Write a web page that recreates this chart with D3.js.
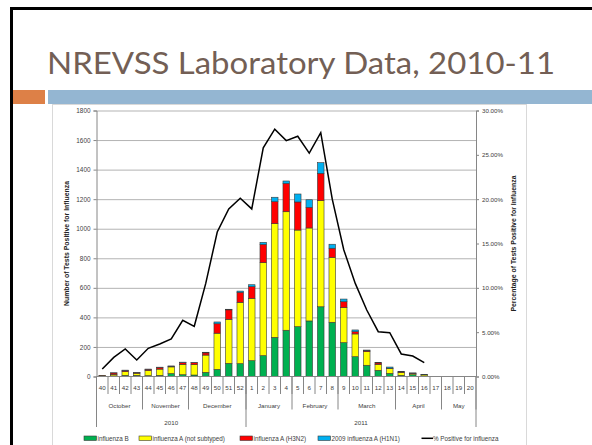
<!DOCTYPE html>
<html>
<head>
<meta charset="utf-8">
<script src="https://cdn.jsdelivr.net/npm/d3@7"></script>
<style>
  body { margin: 0; background: #fff; }
  svg { display: block; }
  text { font-family: "Liberation Sans", Arial, sans-serif; fill: #404040; }
</style>
</head>
<body>
<script>
// week labels (2010 wk 40 .. 2011 wk 20)
const weeks = ["40","41","42","43","44","45","46","47","48","49","50","51","52",
  "1","2","3","4","5","6","7","8","9","10","11","12","13","14","15","16","17","18","19","20"];

// positive specimens per week
const fluB   = [2, 4, 8, 8, 6, 8, 20, 12, 10, 28, 48, 89, 87,
  107, 141, 265, 313, 337, 376, 472, 367, 229, 134, 76, 42, 21, 8, 12, 4, 0, 0, 0, 0];
const fluA   = [5, 10, 25, 14, 35, 42, 45, 70, 70, 117, 245, 298, 415,
  422, 629, 769, 802, 654, 629, 718, 439, 237, 154, 92, 40, 32, 20, 8, 8, 0, 0, 0, 0];
const h3n2   = [1, 10, 8, 4, 8, 12, 5, 12, 14, 15, 64, 64, 68,
  79, 124, 149, 192, 190, 140, 185, 62, 40, 15, 6, 10, 3, 3, 3, 1, 0, 0, 0, 0];
const h1n1   = [0, 1, 2, 1, 1, 1, 1, 3, 2, 4, 12, 4, 8,
  13, 14, 30, 16, 54, 51, 72, 27, 18, 12, 5, 2, 8, 4, 1, 1, 0, 0, 0, 0];
// % positive (percent)
const pctPos = [0.85, 2.16, 3.10, 1.86, 3.18, 3.66, 4.23, 6.34, 5.66, 10.5, 16.3, 18.9, 20.1,
  18.9, 25.8, 27.9, 26.6, 27.1, 25.2, 27.5, 20.0, 14.3, 10.5, 7.5, 5.05, 4.94, 2.54, 2.31, 1.56, null, null, null, null];

const months = ["October","November","December","January","February","March","April","May"];
const monthWeeks = [4, 4, 5, 4, 4, 5, 4, 3];
const years = ["2010", "2011"];
const yearWeeks = [13, 20];

const seriesKeys = ["influenza B", "influenza A (not subtyped)", "influenza A (H3N2)", "2009 influenza A (H1N1)"];
const seriesVals = [fluB, fluA, h3n2, h1n1];
const seriesColors = ["#00b050", "#ffff00", "#ff0000", "#00b0f0"];

const W = 592, H = 445;
const plotL = 96.5, plotR = 476, plotT = 110.5, plotB = 376.5;

const svg = d3.select("body").append("svg")
  .attr("width", W)
  .attr("height", H);

// slide frame
svg.append("rect").attr("x", 0).attr("y", 0).attr("width", W).attr("height", H).attr("fill", "#fff");
svg.append("rect").attr("x", 10).attr("y", 7).attr("width", W - 10).attr("height", 3).attr("fill", "#000");
svg.append("rect").attr("x", 10).attr("y", 7).attr("width", 3).attr("height", H - 7).attr("fill", "#000");

// title
svg.append("text")
  .attr("x", 47)
  .attr("y", 74)
  .attr("textLength", 508)
  .attr("lengthAdjust", "spacingAndGlyphs")
  .style("font-family", "Lato, 'Open Sans', sans-serif")
  .style("font-size", "31px")
  .style("fill", "#735f55")
  .text("NREVSS Laboratory Data, 2010-11");

// accent bars
svg.append("rect").attr("x", 13).attr("y", 90).attr("width", 32).attr("height", 14).attr("fill", "#dd8047");
svg.append("rect").attr("x", 48).attr("y", 90).attr("width", W - 48).attr("height", 14).attr("fill", "#94b6d2");

// chart box
svg.append("rect")
  .attr("x", 52.5).attr("y", 104.5)
  .attr("width", 474).attr("height", 360)
  .attr("fill", "#fff")
  .attr("stroke", "#d9d9d9");

// scales
const x = d3.scaleBand()
  .domain(d3.range(weeks.length))
  .range([plotL, plotR])
  .paddingInner(0.43)
  .paddingOuter(0.215);

const y = d3.scaleLinear().domain([0, 1800]).range([plotB, plotT]);
const yPct = d3.scaleLinear().domain([0, 0.30]).range([plotB, plotT]);

// gridlines
svg.append("g")
  .attr("transform", `translate(${plotL},0)`)
  .call(d3.axisLeft(y).tickValues(d3.range(200, 1801, 200)).tickSize(-(plotR - plotL)).tickFormat(""))
  .call(g => g.select(".domain").remove())
  .call(g => g.selectAll("line").attr("stroke", "#b3b3b3"));

// left axis
svg.append("g")
  .attr("transform", `translate(${plotL},0)`)
  .call(d3.axisLeft(y).tickValues(d3.range(0, 1801, 200)).tickSize(3).tickPadding(3).tickFormat(d3.format("d")))
  .call(g => g.select(".domain").attr("stroke", "#868686"))
  .call(g => g.selectAll("line").attr("stroke", "#868686"))
  .call(g => g.selectAll("text").style("font-size", "6.4px").attr("fill", "#404040"));

// right axis
svg.append("g")
  .attr("transform", `translate(${plotR},0)`)
  .call(d3.axisRight(yPct).tickValues(d3.range(0, 0.301, 0.05)).tickSize(3).tickPadding(3).tickFormat(d3.format(".2%")))
  .call(g => g.select(".domain").attr("stroke", "#868686"))
  .call(g => g.selectAll("line").attr("stroke", "#868686"))
  .call(g => g.selectAll("text").style("font-size", "6.2px").attr("fill", "#404040"));

// stacked bars
const stackData = weeks.map((w, i) => {
  const row = {i: i};
  seriesKeys.forEach((k, j) => row[k] = seriesVals[j][i]);
  return row;
});
const stacked = d3.stack().keys(seriesKeys)(stackData);

svg.append("g")
  .selectAll("g")
  .data(stacked)
  .join("g")
  .attr("fill", (d, j) => seriesColors[j])
  .selectAll("rect")
  .data(d => d.filter(p => p[1] - p[0] > 0))
  .join("rect")
  .attr("x", d => x(d.data.i))
  .attr("y", d => y(d[1]))
  .attr("width", x.bandwidth())
  .attr("height", d => y(d[0]) - y(d[1]))
  .attr("stroke", "#3a3a3a")
  .attr("stroke-width", 0.6);

// bottom axis line
svg.append("line")
  .attr("x1", plotL).attr("x2", plotR)
  .attr("y1", plotB).attr("y2", plotB)
  .attr("stroke", "#868686");

// % positive line
const line = d3.line()
  .defined(d => d != null)
  .x((d, i) => x(i) + x.bandwidth() / 2)
  .y(d => yPct(d / 100));

svg.append("path")
  .datum(pctPos)
  .attr("d", line)
  .attr("fill", "none")
  .attr("stroke", "#000")
  .attr("stroke-width", 1.5)
  .attr("stroke-linejoin", "miter");

// multi-level category axis
const step = x.step();
const xEdge = i => plotL + i * step;
const catG = svg.append("g").attr("stroke", "#868686");

weeks.forEach((w, i) => {
  if (i > 0) {
    catG.append("line").attr("x1", xEdge(i)).attr("x2", xEdge(i))
      .attr("y1", plotB).attr("y2", 394);
  }
  svg.append("text")
    .attr("x", xEdge(i) + step / 2)
    .attr("y", 389.5)
    .attr("text-anchor", "middle")
    .style("font-size", "6.2px")
    .text(w);
});

let acc = 0;
months.forEach((m, k) => {
  const x0 = xEdge(acc);
  acc += monthWeeks[k];
  const x1 = xEdge(acc);
  catG.append("line").attr("x1", x1).attr("x2", x1).attr("y1", plotB).attr("y2", 409.5);
  svg.append("text")
    .attr("x", (x0 + x1) / 2)
    .attr("y", 407.5)
    .attr("text-anchor", "middle")
    .style("font-size", "6.2px")
    .text(m);
});

acc = 0;
catG.append("line").attr("x1", plotL).attr("x2", plotL).attr("y1", plotB).attr("y2", 427);
years.forEach((yr, k) => {
  const x0 = xEdge(acc);
  acc += yearWeeks[k];
  const x1 = xEdge(acc);
  catG.append("line").attr("x1", x1).attr("x2", x1).attr("y1", plotB).attr("y2", 427);
  svg.append("text")
    .attr("x", (x0 + x1) / 2)
    .attr("y", 424.5)
    .attr("text-anchor", "middle")
    .style("font-size", "6.2px")
    .text(yr);
});

// axis titles
svg.append("text")
  .attr("transform", `translate(68.5, ${(plotT + plotB) / 2}) rotate(-90)`)
  .attr("text-anchor", "middle")
  .style("font-size", "6.9px")
  .style("font-weight", "bold")
  .style("fill", "#222")
  .text("Number of Tests Positive for Influenza");

svg.append("text")
  .attr("transform", `translate(515.5, ${(plotT + plotB) / 2}) rotate(-90)`)
  .attr("text-anchor", "middle")
  .style("font-size", "6.9px")
  .style("font-weight", "bold")
  .style("fill", "#222")
  .text("Percentage of Tests Positive for Influenza");

// legend
const legendX = [84, 139, 240, 318];
const legend = svg.append("g");
seriesKeys.forEach((k, j) => {
  legend.append("rect")
    .attr("x", legendX[j]).attr("y", 436)
    .attr("width", 12.5).attr("height", 4.5)
    .attr("fill", seriesColors[j])
    .attr("stroke", "#3a3a3a")
    .attr("stroke-width", 0.6);
  legend.append("text")
    .attr("x", legendX[j] + 13.5).attr("y", 440.5)
    .style("font-size", "6.3px")
    .text(k);
});
legend.append("line")
  .attr("x1", 421.5).attr("x2", 433)
  .attr("y1", 438.3).attr("y2", 438.3)
  .attr("stroke", "#000").attr("stroke-width", 1.5);
legend.append("text")
  .attr("x", 433).attr("y", 440.5)
  .style("font-size", "6.3px")
  .text("% Positive for influenza");
</script>
</body>
</html>
